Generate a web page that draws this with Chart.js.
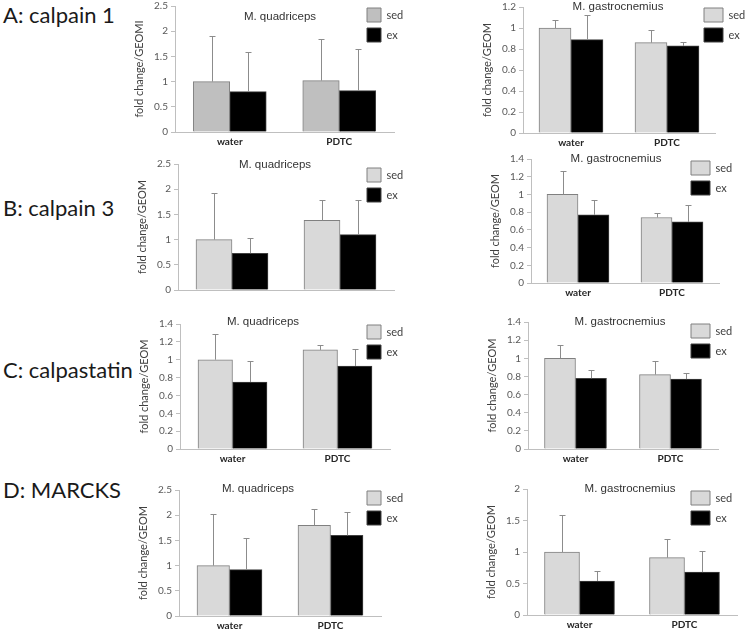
<!DOCTYPE html>
<html>
<head>
<meta charset="utf-8">
<script src="https://cdn.jsdelivr.net/npm/chart.js@4/dist/chart.umd.min.js"></script>
<style>
  body { margin: 0; width: 746px; height: 629px; background: #fff; position: relative; overflow: hidden; }
  .gene { position: absolute; left: 3px; font-family: Lato, sans-serif; font-size: 22px; line-height: 22px; color: #1a1a1a; white-space: nowrap; z-index: 2; }
  canvas { position: absolute; }
</style>
</head>
<body>
<div id="genes"></div>
<script>
// ---- data ----
const groups = ['water', 'PDTC'];
const series = ['sed', 'ex'];
const genes = ['A: calpain 1', 'B: calpain 3', 'C: calpastatin', 'D: MARCKS'];
const muscles = ['M. quadriceps', 'M. gastrocnemius'];

// M. quadriceps, one row per gene: [water, PDTC]
const quadSed = [[1.0, 1.02], [1.0, 1.38], [1.0, 1.11], [1.0, 1.8]];
const quadSedTop = [[1.9, 1.85], [1.93, 1.78], [1.29, 1.16], [2.03, 2.13]];
const quadEx = [[0.8, 0.82], [0.73, 1.1], [0.75, 0.93], [0.92, 1.6]];
const quadExTop = [[1.58, 1.65], [1.03, 1.78], [0.98, 1.12], [1.55, 2.06]];
const quadMax = [2.5, 2.5, 1.4, 2.5];
const quadStep = [0.5, 0.5, 0.2, 0.5];

// M. gastrocnemius
const gasSed = [[1.0, 0.86], [1.0, 0.74], [1.0, 0.82], [1.0, 0.91]];
const gasSedTop = [[1.08, 0.98], [1.27, 0.79], [1.15, 0.97], [1.59, 1.2]];
const gasEx = [[0.89, 0.83], [0.77, 0.69], [0.78, 0.77], [0.54, 0.68]];
const gasExTop = [[1.12, 0.87], [0.94, 0.88], [0.87, 0.84], [0.7, 1.02]];
const gasMax = [1.2, 1.4, 1.4, 2];
const gasStep = [0.2, 0.2, 0.2, 0.5];

const yTitles = [['fold change/GEOMI', 'fold change/GEOM'], ['fold change/GEOM', 'fold change/GEOM'],
                 ['fold change/GEOM', 'fold change/GEOM'], ['fold change/GEOM', 'fold change/GEOM']];

// ---- layout (page pixels) ----
const geneTops = [4, 197, 359, 479];
const YW = 42, XH = 20;
const panels = [
  { r: 0, m: 0, ax: 175, cw: 109.5, bw: 36.5, top: 5, zero: 132, tx: 280, ty: 17, lx: 367, ly: 8, lbw: 14, xl: true, sc: '#bfbfbf' },
  { r: 0, m: 1, ax: 523, cw: 96, bw: 32, top: 6, zero: 133, tx: 618, ty: 7, lx: 704, ly: 8, lbw: 19, xl: true, sc: '#d9d9d9' },
  { r: 1, m: 0, ax: 178, cw: 108, bw: 36, top: 163, zero: 290, tx: 275, ty: 165, lx: 367, ly: 168, lbw: 14, xl: false, sc: '#d9d9d9' },
  { r: 1, m: 1, ax: 531, cw: 94, bw: 31, top: 158, zero: 283, tx: 616, ty: 159, lx: 691, ly: 161, lbw: 19, xl: true, sc: '#d9d9d9' },
  { r: 2, m: 0, ax: 180, cw: 105, bw: 34.5, top: 323, zero: 449, tx: 263, ty: 322, lx: 367, ly: 325, lbw: 14, xl: true, sc: '#d9d9d9' },
  { r: 2, m: 1, ax: 528, cw: 95, bw: 31, top: 321, zero: 449, tx: 620, ty: 322, lx: 691, ly: 324, lbw: 19, xl: true, sc: '#d9d9d9' },
  { r: 3, m: 0, ax: 179, cw: 101, bw: 32.5, top: 489, zero: 616, tx: 258, ty: 489, lx: 367, ly: 491, lbw: 14, xl: true, sc: '#d9d9d9' },
  { r: 3, m: 1, ax: 527, cw: 105, bw: 35, top: 488, zero: 615, tx: 630, ty: 489, lx: 691, ly: 491, lbw: 19, xl: true, sc: '#d9d9d9' }
];

Chart.defaults.font.family = 'Lato, sans-serif';
Chart.defaults.color = '#595959';

// upper error bars, drawn through the y scale
const errorBars = {
  id: 'errorBars',
  afterDatasetsDraw(chart) {
    const ctx = chart.ctx, y = chart.scales.y;
    chart.data.datasets.forEach((ds, i) => {
      chart.getDatasetMeta(i).data.forEach((bar, j) => {
        const yt = Math.round(y.getPixelForValue(ds.errTop[j])) + 0.5;
        const x = Math.round(bar.x) + 0.5;
        ctx.save();
        ctx.strokeStyle = '#8c8c8c';
        ctx.lineWidth = 1;
        ctx.beginPath();
        ctx.moveTo(x, bar.y);
        ctx.lineTo(x, yt);
        ctx.moveTo(x - 3, yt);
        ctx.lineTo(x + 3, yt);
        ctx.stroke();
        ctx.restore();
      });
    });
  }
};

// put title and legend where the figure has them (canvas coordinates)
const placeBoxes = {
  id: 'placeBoxes',
  afterLayout(chart) {
    const p = chart.options.plugins.placeBoxes;
    const t = chart.titleBlock;
    t.left = p.tx - 120; t.right = p.tx + 120;
    t.top = p.ty - 6.9; t.bottom = t.top + 14;
    const l = chart.legend;
    l.left = p.lx - 6; l.top = p.ly - 6;
    l.right = l.left + 70; l.bottom = l.top + 60;
  }
};

genes.forEach((g, i) => {
  const d = document.createElement('div');
  d.className = 'gene';
  d.style.top = geneTops[i] + 'px';
  d.textContent = g;
  document.getElementById('genes').appendChild(d);
});

panels.forEach(p => {
  const q = p.m === 0;
  const sed = q ? quadSed[p.r] : gasSed[p.r];
  const sedTop = q ? quadSedTop[p.r] : gasSedTop[p.r];
  const ex = q ? quadEx[p.r] : gasEx[p.r];
  const exTop = q ? quadExTop[p.r] : gasExTop[p.r];
  const yMax = q ? quadMax[p.r] : gasMax[p.r];
  const yStep = q ? quadStep[p.r] : gasStep[p.r];

  const left = p.ax - YW;
  const right = q ? 425 : 746;
  const top = p.top - 8;
  const w = right - left;
  const h = p.zero - top + XH;

  const canvas = document.createElement('canvas');
  canvas.width = w; canvas.height = h;
  canvas.style.left = left + 'px'; canvas.style.top = top + 'px';
  canvas.style.width = w + 'px'; canvas.style.height = h + 'px';
  document.body.appendChild(canvas);

  new Chart(canvas, {
    type: 'bar',
    data: {
      labels: groups,
      datasets: [
        { label: series[0], data: sed, errTop: sedTop, backgroundColor: p.sc, borderColor: '#808080', borderWidth: 1, barThickness: p.bw },
        { label: series[1], data: ex, errTop: exTop, backgroundColor: '#000000', borderColor: '#404040', borderWidth: 1, barThickness: p.bw }
      ]
    },
    options: {
      responsive: false,
      animation: false,
      devicePixelRatio: 1,
      layout: { padding: { left: 0, top: 8, bottom: 0, right: w - YW - 2 * p.cw } },
      scales: {
        x: {
          offset: true,
          afterFit: s => { s.height = XH; },
          grid: { display: false, drawTicks: false },
          border: { display: true, color: '#bfbfbf' },
          ticks: { display: p.xl, padding: 4, color: '#262626', font: { size: 10, weight: 'bold' } }
        },
        y: {
          min: 0, max: yMax,
          afterFit: s => { s.width = YW; },
          ticks: { stepSize: yStep, padding: 3, font: { size: 10 }, color: '#595959',
                   callback: v => String(+v.toFixed(2)) },
          grid: { drawOnChartArea: false, drawTicks: true, tickLength: 4, color: '#bfbfbf' },
          border: { display: true, color: '#bfbfbf' },
          title: { display: true, text: yTitles[p.r][p.m], color: '#404040', font: { size: 11 }, padding: 0 }
        }
      },
      plugins: {
        title: { display: true, text: muscles[p.m], fullSize: false, color: '#333333',
                 font: { family: 'Liberation Sans, Arial, sans-serif', size: 11.5, weight: 'normal' },
                 padding: { top: 0, bottom: -13.8 } },
        legend: { position: 'chartArea', align: 'start',
                  labels: { boxWidth: p.lbw, boxHeight: 14, padding: 6, color: '#404040', font: { size: 11 } } },
        tooltip: { enabled: false },
        placeBoxes: { tx: p.tx - left, ty: p.ty - top, lx: p.lx - left, ly: p.ly - top }
      }
    },
    plugins: [errorBars, placeBoxes]
  });
});
</script>
</body>
</html>
